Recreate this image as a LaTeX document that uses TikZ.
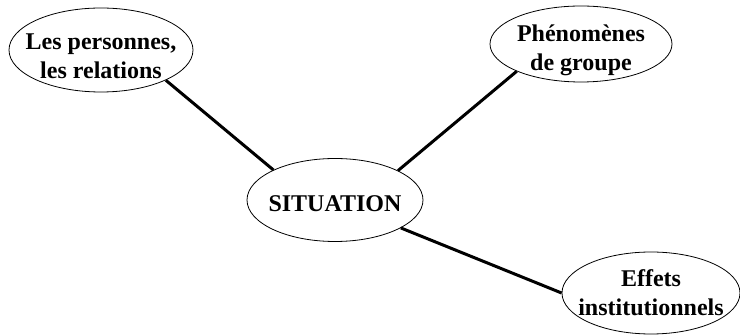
\documentclass[tikz,border=0pt]{standalone}
\usepackage{fontspec}
\setmainfont{Liberation Serif}
\usetikzlibrary{shapes.geometric}
\usetikzlibrary{positioning}

\begin{document}
\begin{tikzpicture}[x=1pt,y=1pt,node distance=1cm,on grid,
    bulle/.style={draw,ellipse,line width=0.8pt,inner sep=-15pt,align=center,
      font=\fontsize{24}{29}\selectfont\bfseries},
    lien/.style={line width=3pt}]

        \useasboundingbox (0,0) rectangle (740,-336);

        \node[bulle,minimum width=176pt,minimum height=83pt,text height=24pt] (sit) at (335,-200) {SITUATION};

        \node[bulle,minimum width=184pt,minimum height=84pt,text height=58pt] (pers) [above left=150pt and 234pt of sit] {Les personnes,\\les relations};
        \node[bulle,minimum width=182pt,minimum height=76pt,text height=59pt] (phen) [above right=156pt and 246pt of sit] {Phénomènes\\de groupe};
        \node[bulle,minimum width=178pt,minimum height=82pt] (eff) [below right=93pt and 316pt of sit] {Effets\\institutionnels};

        \path [lien]
          (pers.-25) edge [] node[] {} (sit.154)
          (sit.25) edge [] node[] {} (phen.203)
          (sit.-23) edge [] node[] {} (eff.180);

\end{tikzpicture}
\end{document}
